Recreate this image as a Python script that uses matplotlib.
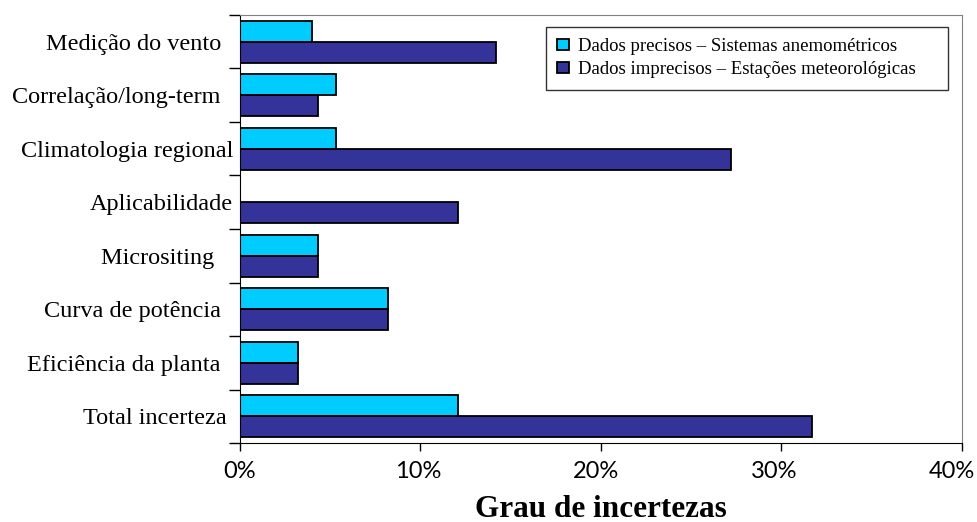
import numpy as np
import matplotlib
matplotlib.use("Agg")
import matplotlib.pyplot as plt
import matplotlib.transforms as mtransforms
from matplotlib.ticker import FuncFormatter, FixedLocator

# categories (top to bottom); trailing spaces mimic the original label alignment
categories = ["Medição do vento  ", "Correlação/long-term  ", "Climatologia regional",
              "Aplicabilidade", "Micrositing   ", "Curva de potência  ",
              "Eficiência da planta  ", "Total incerteza "]
precisos = [4.0, 5.3, 5.3, 0.0, 4.3, 8.2, 3.2, 12.1]
imprecisos = [14.2, 4.3, 27.2, 12.1, 4.3, 8.2, 3.2, 31.7]
series_names = ["Dados precisos – Sistemas anemométricos",
                "Dados imprecisos – Estações meteorológicas"]
x_ticks = [0, 10, 20, 30, 40]

serif = "Liberation Serif"
sans = "Lato"

fig, ax = plt.subplots(figsize=(9.77, 5.22), dpi=100)
fig.subplots_adjust(left=0.2456, right=0.9846, top=0.9713, bottom=0.1513)

y = np.arange(len(categories))
h = 0.39
ax.barh(y - h / 2, precisos, height=h, color="#00CCFF", edgecolor="black", linewidth=1.3,
        label=series_names[0])
ax.barh(y + h / 2, imprecisos, height=h, color="#333399", edgecolor="black", linewidth=1.3,
        label=series_names[1])

ax.set_ylim(len(categories) - 0.5, -0.5)
ax.set_xlim(0, 40)

# y labels at category centres, ticks at the boundaries
ax.set_yticks(y)
ax.set_yticklabels(categories, fontfamily=serif, fontsize=17.5)
ax.tick_params(axis="y", which="major", length=0, pad=5)
ax.yaxis.set_minor_locator(FixedLocator(np.arange(len(categories) + 1) - 0.5))
ax.tick_params(axis="y", which="minor", length=8, width=1, color="black")

ax.set_xticks(x_ticks)
ax.xaxis.set_major_formatter(FuncFormatter(lambda v, p: f"{v:.0f}%"))
ax.tick_params(axis="x", length=6, width=1, pad=7)
fig.canvas.draw()
for i, lbl in enumerate(ax.get_xticklabels()):
    lbl.set_fontfamily(sans)
    lbl.set_fontweight("normal")
    lbl.set_fontsize(17)
    lbl.set_color("black")
    lbl.set_transform(lbl.get_transform() +
                      mtransforms.ScaledTranslation(-2.5 * i / 100, 0, fig.dpi_scale_trans))
ax.set_xlabel("Grau de incertezas", fontfamily=serif, fontweight="bold", fontsize=22.5, labelpad=9)

for s in ["top", "right"]:
    ax.spines[s].set_color("#808080")
for s in ["left", "bottom"]:
    ax.spines[s].set_color("black")

leg = ax.legend(loc="upper left", bbox_to_anchor=(0.4238, 0.7, 0.5568, 0.2727),
                mode="expand", borderaxespad=0,
                prop={"family": serif, "size": 13.5}, frameon=True, fancybox=False,
                handlelength=0.65, handleheight=0.55, handletextpad=0.45,
                labelspacing=0.35, borderpad=0.6)
leg.get_frame().set_edgecolor("black")
leg.get_frame().set_linewidth(1)

fig.savefig("out.png", dpi=100)
